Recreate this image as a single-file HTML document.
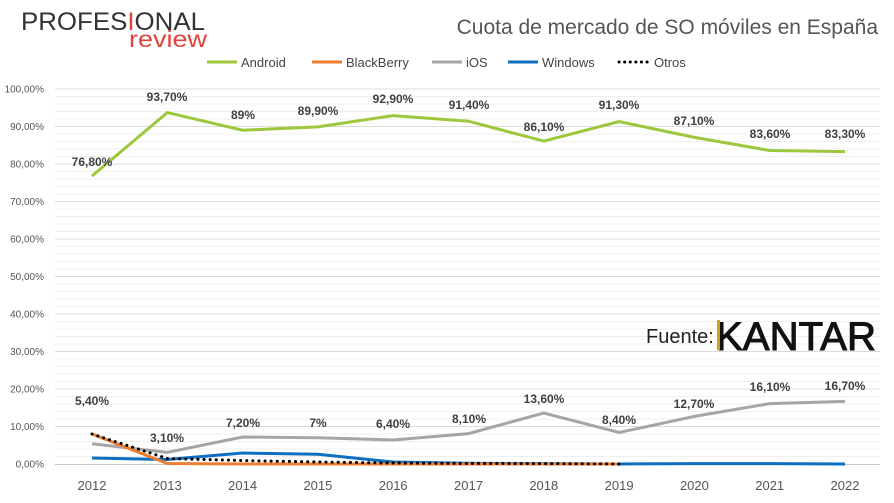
<!DOCTYPE html>
<html><head><meta charset="utf-8"><style>
body{margin:0;background:#fff;width:894px;height:498px;overflow:hidden;font-family:"Liberation Sans",sans-serif}
</style></head><body>
<svg width="894" height="498" xmlns="http://www.w3.org/2000/svg" font-family="Liberation Sans, sans-serif">
<g id="minor" stroke="#efefef"></g>
<g id="major" stroke="#dcdcdc"></g>
<g id="ylab" font-size="10" fill="#555" text-anchor="end"></g>
<line x1="55" x2="880" y1="464.5" y2="464.5" stroke="#c8c8c8"/>
<g id="xlab" font-size="13" fill="#555" text-anchor="middle"></g>
<text x="21" y="30" font-size="25" fill="#333" textLength="184" lengthAdjust="spacingAndGlyphs">PROFES<tspan fill="#e2423a">I</tspan>ONAL</text>
<text x="129" y="47" font-size="23" fill="#e2423a" textLength="78" lengthAdjust="spacingAndGlyphs">review</text>
<text x="878" y="34" font-size="21" fill="#555" text-anchor="end">Cuota de mercado de SO móviles en España</text>
<g font-size="13" fill="#444">
<line x1="207" x2="237" y1="62" y2="62" stroke="#9dc73c" stroke-width="3"/><text x="241" y="67">Android</text>
<line x1="312" x2="342" y1="62" y2="62" stroke="#ed7d31" stroke-width="3"/><text x="346" y="67">BlackBerry</text>
<line x1="432" x2="462" y1="62" y2="62" stroke="#a5a5a5" stroke-width="3"/><text x="466" y="67">iOS</text>
<line x1="508" x2="538" y1="62" y2="62" stroke="#0e6ec0" stroke-width="3"/><text x="542" y="67">Windows</text>
<line x1="619" x2="650" y1="62" y2="62" stroke="#000" stroke-width="3" stroke-dasharray="0.1 5.5" stroke-linecap="round"/><text x="654" y="67">Otros</text>
</g>
<text x="646" y="343" font-size="20" fill="#222">Fuente:</text>
<text x="716" y="350" font-size="40" fill="#111" stroke="#111" stroke-width="1" textLength="160" lengthAdjust="spacingAndGlyphs">KANTAR</text>
<rect x="717" y="320" width="3" height="30" fill="#c9a227"/>
<polyline fill="none" stroke="#0e6ec0" stroke-width="3" points="92,458 167.3,459.5 242.6,453 317.9,454.3 393.2,462 468.5,463.3 543.8,463.6 619.1,464 694.4,463.6 769.7,463.6 845,464"/>
<polyline fill="none" stroke="#a5a5a5" stroke-width="3" points="92,443.7 167.3,452.4 242.6,437 317.9,437.7 393.2,440 468.5,433.6 543.8,413 619.1,432.5 694.4,416.4 769.7,403.6 845,401.4"/>
<polyline fill="none" stroke="#ed7d31" stroke-width="3" points="92,434 167.3,463.5 242.6,464 317.9,464 393.2,464 468.5,464 543.8,464 619.1,464"/>
<polyline fill="none" stroke="#000" stroke-width="3" stroke-dasharray="0.1 6" stroke-linecap="round" points="92,434 167.3,458.5 242.6,460.5 317.9,462 393.2,463 468.5,463.5 543.8,463.6 619.1,464"/>
<polyline fill="none" stroke="#9dc73c" stroke-width="3" points="92,176 167.3,112.6 242.6,130.2 317.9,126.9 393.2,115.6 468.5,121.2 543.8,141.1 619.1,121.6 694.4,137.4 769.7,150.5 845,151.6"/>
<g font-size="12" font-weight="bold" fill="#404040" text-anchor="middle">
<text x="92" y="166">76,80%</text><text x="167" y="101">93,70%</text><text x="243" y="119">89%</text><text x="318" y="115">89,90%</text><text x="393" y="103">92,90%</text><text x="469" y="109">91,40%</text><text x="544" y="131">86,10%</text><text x="619" y="109">91,30%</text><text x="694" y="125">87,10%</text><text x="770" y="138">83,60%</text><text x="845" y="138">83,30%</text>
<text x="92" y="405">5,40%</text><text x="167" y="442">3,10%</text><text x="243" y="427">7,20%</text><text x="318" y="427">7%</text><text x="393" y="428">6,40%</text><text x="469" y="423">8,10%</text><text x="544" y="403">13,60%</text><text x="619" y="424">8,40%</text><text x="694" y="408">12,70%</text><text x="770" y="391">16,10%</text><text x="845" y="390">16,70%</text>
</g>
</svg>
<script>
var ns="http://www.w3.org/2000/svg";
function el(p,t,a,txt){var e=document.createElementNS(ns,t);for(var k in a)e.setAttribute(k,a[k]);if(txt!=null)e.textContent=txt;document.getElementById(p).appendChild(e);}
for(var v=2;v<100;v+=2){if(v%10==0)continue;var y=(464-3.75*v).toFixed(1);el("minor","line",{x1:55,x2:880,y1:y,y2:y});}
for(var v=10;v<=100;v+=10){var y=(464-3.75*v).toFixed(1);el("major","line",{x1:55,x2:880,y1:y,y2:y});}
for(var v=0;v<=100;v+=10){var y=464-3.75*v+3.5;el("ylab","text",{x:44,y:y},v.toFixed(2).replace(".",",")+"%");}
for(var i=0;i<11;i++){el("xlab","text",{x:92+75.3*i,y:490},2012+i);}
</script>
</body></html>
